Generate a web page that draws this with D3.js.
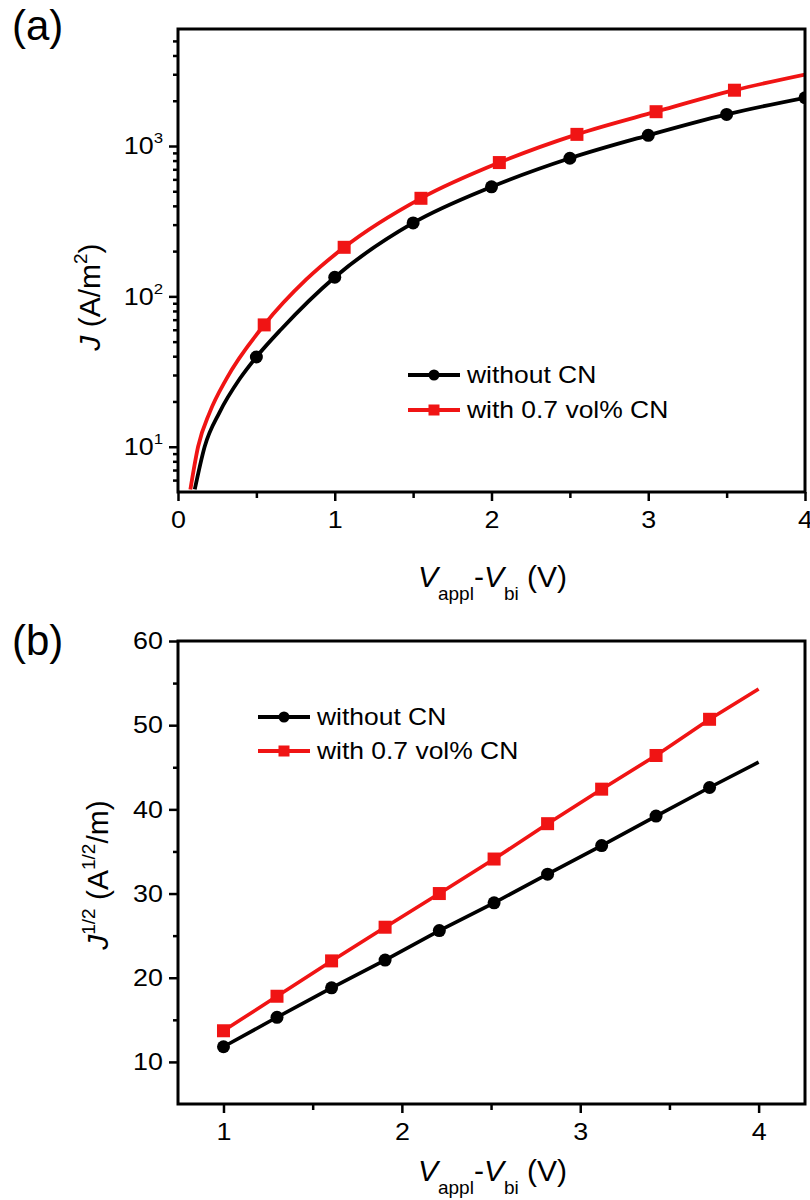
<!DOCTYPE html>
<html>
<head>
<meta charset="utf-8">
<script src="https://cdn.jsdelivr.net/npm/d3@7"></script>
<style>
  html, body { margin: 0; padding: 0; background: #fff; }
  svg { display: block; font-family: "Liberation Sans", Arial, sans-serif; }
</style>
</head>
<body>
<svg id="fig" width="810" height="1200"></svg>
<script>
// ---------- Panel (a): J vs (Vappl - Vbi), log scale ----------
// continuous curves
const aBlackCurveV = [0.107, 0.17, 0.266, 0.394, 0.50, 0.66, 1.0, 1.5, 2.0, 2.5, 3.0, 3.5, 4.0];
const aBlackCurveJ = [5.2, 10, 17, 28.3, 39.5, 60.7, 134, 308, 535, 829, 1178, 1622, 2093];
const aRedCurveV   = [0.079, 0.128, 0.203, 0.309, 0.55, 0.82, 1.06, 1.55, 2.05, 2.545, 3.05, 3.55, 4.0];
const aRedCurveJ   = [5.2, 10, 17, 28.3, 64.6, 130, 212, 449, 776, 1195, 1691, 2350, 2987];
// symbols
const aBlackMarkV = [0.50, 1.0, 1.5, 2.0, 2.5, 3.0, 3.5, 4.0];
const aBlackMarkJ = [39.5, 134, 308, 535, 829, 1178, 1622, 2093];
const aRedMarkV   = [0.55, 1.06, 1.55, 2.05, 2.545, 3.05, 3.55];
const aRedMarkJ   = [64.6, 212, 449, 776, 1195, 1691, 2350];
const aXTicks = [0, 1, 2, 3, 4];
const aXMinor = [0.5, 1.5, 2.5, 3.5];
const aYTicks = [10, 100, 1000];
const aYMinor = [6, 7, 8, 9, 20, 30, 40, 50, 60, 70, 80, 90, 200, 300, 400, 500, 600, 700, 800, 900, 2000, 3000, 4000, 5000];

// ---------- Panel (b): J^1/2 vs (Vappl - Vbi) ----------
const bV     = [1.0, 1.30, 1.606, 1.906, 2.21, 2.517, 2.817, 3.12, 3.425, 3.725];
const bBlack = [11.8, 15.3, 18.8, 22.1, 25.6, 28.9, 32.3, 35.7, 39.2, 42.6];
const bRed   = [13.7, 17.8, 22.0, 26.0, 30.0, 34.1, 38.3, 42.4, 46.4, 50.7];
// fitted lines run on to 4 V
const bLineEndV = 4.0;
const bBlackEnd = 45.6;
const bRedEnd   = 54.3;
const bXTicks = [1, 2, 3, 4];
const bXMinor = [1.5, 2.5, 3.5];
const bYTicks = [10, 20, 30, 40, 50, 60];
const bYMinor = [15, 25, 35, 45, 55];

const seriesNames = ["without CN", "with 0.7 vol% CN"];
const RED = "#f01414";
const BLACK = "#000";

const svg = d3.select("#fig");

// horizontal stretch of a text element about its own x anchor
function stretch(sel, k) {
  sel.each(function () {
    const t = d3.select(this);
    const x = +t.attr("x") || 0;
    t.attr("transform", `translate(${x * (1 - k)},0) scale(${k},1)`);
  });
}

function styleAxis(g) {
  g.select(".domain").remove();
  g.selectAll(".tick line").attr("stroke", "#000").attr("stroke-width", 2.5);
  g.selectAll(".tick text").attr("fill", "#000");
}

function frame(L, T, W, H) {
  svg.append("rect").attr("x", L).attr("y", T).attr("width", W).attr("height", H)
    .attr("fill", "none").attr("stroke", "#000").attr("stroke-width", 3);
}

function circleMark(g, cx, cy, r, color) {
  g.append("circle").attr("cx", cx).attr("cy", cy).attr("r", r).attr("fill", color);
}
function squareMark(g, cx, cy, s, color) {
  g.append("rect").attr("x", cx - s / 2).attr("y", cy - s / 2).attr("width", s).attr("height", s).attr("fill", color);
}

function legend(x0, y0, dy) {
  const g = svg.append("g");
  const rows = [{ c: BLACK, shape: "c" }, { c: RED, shape: "s" }];
  rows.forEach((r, i) => {
    const yy = y0 + i * dy;
    g.append("line").attr("x1", x0).attr("x2", x0 + 52).attr("y1", yy).attr("y2", yy)
      .attr("stroke", r.c).attr("stroke-width", 3.8);
    if (r.shape === "c") circleMark(g, x0 + 26, yy, 5.5, r.c);
    else squareMark(g, x0 + 26, yy, 11, r.c);
    const t = g.append("text").attr("x", x0 + 59).attr("y", yy + 8)
      .attr("font-size", 23).attr("fill", "#000").text(seriesNames[i]);
    stretch(t, 1.15);
  });
}

function xLabel(cx, baseline) {
  const t = svg.append("text").attr("x", cx).attr("y", baseline).attr("text-anchor", "middle")
    .attr("font-size", 30).attr("fill", "#000");
  t.append("tspan").attr("font-style", "italic").text("V");
  t.append("tspan").attr("font-size", 19).attr("dy", 13).text("appl");
  t.append("tspan").attr("dy", -13).text("-");
  t.append("tspan").attr("font-style", "italic").text("V");
  t.append("tspan").attr("font-size", 19).attr("dy", 13).text("bi");
  t.append("tspan").attr("dy", -13).text(" (V)");
}

// ================= Panel (a) =================
{
  const L = 178, R = 805, T = 29, B = 492;
  const x = d3.scaleLinear().domain([0, 4]).range([L, R]);
  const y = d3.scaleLog().domain([5, 6000]).range([B, T]);

  svg.append("defs").append("clipPath").attr("id", "clipA")
    .append("rect").attr("x", L).attr("y", T).attr("width", R - L).attr("height", B - T);

  // axes
  const gx = svg.append("g").attr("transform", `translate(0,${B})`)
    .call(d3.axisBottom(x).tickValues(aXTicks).tickSize(9).tickPadding(10).tickFormat(d3.format("d")));
  styleAxis(gx);
  gx.selectAll(".tick text").attr("font-size", 24);
  stretch(gx.selectAll(".tick text"), 1.12);
  const gxm = svg.append("g").attr("transform", `translate(0,${B})`)
    .call(d3.axisBottom(x).tickValues(aXMinor).tickSize(6).tickFormat(""));
  styleAxis(gxm);

  const gy = svg.append("g").attr("transform", `translate(${L},0)`)
    .call(d3.axisLeft(y).tickValues(aYTicks).tickSize(9).tickPadding(6).tickFormat(""));
  styleAxis(gy);
  gy.selectAll(".tick text").attr("font-size", 24).each(function (d) {
    const t = d3.select(this);
    t.append("tspan").text("10");
    t.append("tspan").attr("font-size", 15).attr("dy", -11).text(Math.round(Math.log10(d)));
  });
  stretch(gy.selectAll(".tick text"), 1.12);
  const gym = svg.append("g").attr("transform", `translate(${L},0)`)
    .call(d3.axisLeft(y).tickValues(aYMinor).tickSize(5).tickFormat(""));
  styleAxis(gym);

  // data
  const line = d3.line().x(d => x(d[0])).y(d => y(d[1])).curve(d3.curveMonotoneX);
  const plot = svg.append("g").attr("clip-path", "url(#clipA)");
  plot.append("path").datum(d3.zip(aBlackCurveV, aBlackCurveJ)).attr("d", line)
    .attr("fill", "none").attr("stroke", BLACK).attr("stroke-width", 3.8);
  plot.append("path").datum(d3.zip(aRedCurveV, aRedCurveJ)).attr("d", line)
    .attr("fill", "none").attr("stroke", RED).attr("stroke-width", 3.8);
  d3.zip(aBlackMarkV, aBlackMarkJ).forEach(d => circleMark(plot, x(d[0]), y(d[1]), 6.5, BLACK));
  d3.zip(aRedMarkV, aRedMarkJ).forEach(d => squareMark(plot, x(d[0]), y(d[1]), 13, RED));

  frame(L, T, R - L, B - T);
  legend(408, 375, 35);
  xLabel((L + R) / 2 + 1, 587);

  // y label
  const yl = svg.append("text").attr("transform", "translate(100,297) rotate(-90)")
    .attr("text-anchor", "middle").attr("font-size", 30).attr("fill", "#000");
  yl.append("tspan").attr("font-style", "italic").text("J");
  yl.append("tspan").text(" (A/m");
  yl.append("tspan").attr("font-size", 19).attr("dy", -13).text("2");
  yl.append("tspan").attr("dy", 13).text(")");

  svg.append("text").attr("x", 12).attr("y", 40).attr("font-size", 42).attr("fill", "#000").text("(a)");
}

// ================= Panel (b) =================
{
  const L = 178, R = 805, T = 641, B = 1104;
  const x = d3.scaleLinear().domain([0.745, 4.26]).range([L, R]);
  const y = d3.scaleLinear().domain([5, 60]).range([B, T]);

  svg.select("defs").append("clipPath").attr("id", "clipB")
    .append("rect").attr("x", L).attr("y", T).attr("width", R - L).attr("height", B - T);

  const gx = svg.append("g").attr("transform", `translate(0,${B})`)
    .call(d3.axisBottom(x).tickValues(bXTicks).tickSize(9).tickPadding(10).tickFormat(d3.format("d")));
  styleAxis(gx);
  gx.selectAll(".tick text").attr("font-size", 24);
  stretch(gx.selectAll(".tick text"), 1.12);
  const gxm = svg.append("g").attr("transform", `translate(0,${B})`)
    .call(d3.axisBottom(x).tickValues(bXMinor).tickSize(6).tickFormat(""));
  styleAxis(gxm);

  const gy = svg.append("g").attr("transform", `translate(${L},0)`)
    .call(d3.axisLeft(y).tickValues(bYTicks).tickSize(9).tickPadding(6).tickFormat(d3.format("d")));
  styleAxis(gy);
  gy.selectAll(".tick text").attr("font-size", 24);
  stretch(gy.selectAll(".tick text"), 1.12);
  const gym = svg.append("g").attr("transform", `translate(${L},0)`)
    .call(d3.axisLeft(y).tickValues(bYMinor).tickSize(5).tickFormat(""));
  styleAxis(gym);

  const line = d3.line().x(d => x(d[0])).y(d => y(d[1]));
  const plot = svg.append("g").attr("clip-path", "url(#clipB)");
  plot.append("path").datum(d3.zip(bV, bBlack).concat([[bLineEndV, bBlackEnd]])).attr("d", line)
    .attr("fill", "none").attr("stroke", BLACK).attr("stroke-width", 3.6);
  plot.append("path").datum(d3.zip(bV, bRed).concat([[bLineEndV, bRedEnd]])).attr("d", line)
    .attr("fill", "none").attr("stroke", RED).attr("stroke-width", 3.6);
  d3.zip(bV, bBlack).forEach(d => circleMark(plot, x(d[0]), y(d[1]), 6.5, BLACK));
  d3.zip(bV, bRed).forEach(d => squareMark(plot, x(d[0]), y(d[1]), 13, RED));

  frame(L, T, R - L, B - T);
  legend(258, 717, 34);
  xLabel((L + R) / 2 + 1, 1181);

  const yl = svg.append("text").attr("transform", "translate(108,875) rotate(-90)")
    .attr("text-anchor", "middle").attr("font-size", 30).attr("fill", "#000");
  yl.append("tspan").attr("font-style", "italic").text("J");
  yl.append("tspan").attr("font-size", 19).attr("dy", -13).text("1/2");
  yl.append("tspan").attr("dy", 13).text(" (A");
  yl.append("tspan").attr("font-size", 19).attr("dy", -13).text("1/2");
  yl.append("tspan").attr("dy", 13).text("/m)");

  svg.append("text").attr("x", 12).attr("y", 655).attr("font-size", 42).attr("fill", "#000").text("(b)");
}
</script>
</body>
</html>
